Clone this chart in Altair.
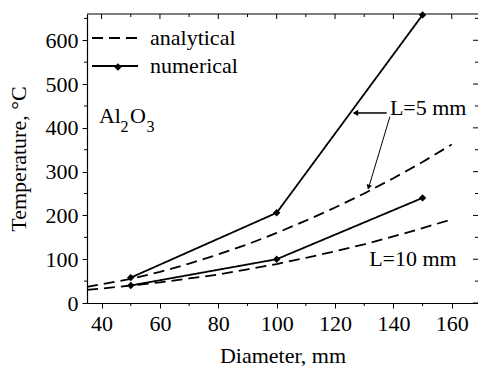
import altair as alt
import pandas as pd

# ---- data ----
diam_num = [50, 100, 150]
num_L5 = [58, 206, 658]
num_L10 = [40, 100, 240]

diam_an = [35, 40, 50, 60, 70, 80, 90, 100, 110, 120, 130, 140, 150, 160]
an_L5 = [37, 43, 55, 71, 90, 111, 134, 160, 188, 218, 250, 285, 322, 362]
an_L10 = [30, 33, 40, 47, 56, 65, 77, 89, 103, 118, 134, 152, 171, 191]

kinds = ["analytical", "numerical"]

x_major = [40, 60, 80, 100, 120, 140, 160]
x_minor = [50, 70, 90, 110, 130, 150]
y_major = [0, 100, 200, 300, 400, 500, 600]
y_minor = [50, 150, 250, 350, 450, 550, 650]

# annotations (data coordinates)
main_text = ["Al", "O", "L=5 mm", "L=10 mm"]
main_x = [39.1, 49.7, 138.8, 131.7]
main_y = [410, 410, 429, 85]
sub_text = ["2", "3"]
sub_x = [46.5, 55.4]
sub_y = [391, 391]

arrow1 = {"D": [137.7], "T": [434], "D2": [127.5], "T2": [434]}
arrow1_head = {"D": [127.0], "T": [434]}
arrow2 = {"D": [138.8], "T": [425.3], "D2": [131.5], "T2": [263]}
arrow2_head = {"D": [131.5], "T": [264.5]}

X_DOMAIN = [35, 169]
Y_DOMAIN = [0, 660]
FONT = "Liberation Serif"
FS = 22

rows = []
for d, t in zip(diam_an, an_L5):
    rows.append({"D": d, "T": t, "kind": "analytical", "series": "an5"})
for d, t in zip(diam_an, an_L10):
    rows.append({"D": d, "T": t, "kind": "analytical", "series": "an10"})
for d, t in zip(diam_num, num_L5):
    rows.append({"D": d, "T": t, "kind": "numerical", "series": "num5"})
for d, t in zip(diam_num, num_L10):
    rows.append({"D": d, "T": t, "kind": "numerical", "series": "num10"})
df = pd.DataFrame(rows)
df_num = df[df["kind"] == "numerical"]

xs = alt.Scale(domain=X_DOMAIN, nice=False, zero=False)
ys = alt.Scale(domain=Y_DOMAIN, nice=False, zero=False)
common = dict(tickSize=5, tickColor="black", tickWidth=1, domain=True, domainColor="black",
              domainWidth=1.2, grid=False,
              labelFont=FONT, labelFontSize=FS, labelColor="black", labelFontWeight="normal",
              titleFont=FONT, titleFontSize=FS, titleColor="black", titleFontWeight="normal",
              titleBaseline="alphabetic")
AX = alt.Axis(values=x_major, labelPadding=5, title="Diameter, mm", titleY=59, **common)
AY = alt.Axis(values=y_major, labelPadding=4, title="Temperature, °C", titleX=-62, **common)

lines = alt.Chart(df).mark_line(color="black", strokeWidth=1.8).encode(
    strokeDash=alt.StrokeDash("kind:N", scale=alt.Scale(domain=kinds, range=[[11, 6], [1, 0]]),
                              legend=alt.Legend(orient="none", legendX=17, legendY=13, title=None,
                                                symbolType="M-2.3,0H2.3", symbolSize=400,
                                                symbolStrokeWidth=1.8, symbolStrokeColor="black",
                                                labelFont=FONT, labelFontSize=FS, labelColor="black",
                                                labelOffset=24, rowPadding=6, padding=0)),
    detail="series:N",
)

points = alt.Chart(df_num).mark_point(filled=True, color="black", size=55, opacity=1).encode(
    shape=alt.Shape("kind:N", scale=alt.Scale(domain=["numerical"], range=["diamond"]),
                    legend=alt.Legend(orient="none", legendX=20, legendY=42, title=None,
                                      symbolSize=55, symbolFillColor="black", symbolStrokeColor="black",
                                      symbolStrokeWidth=0, labelExpr="''",
                                      labelFont=FONT, labelFontSize=FS, padding=0)),
    detail="series:N",
)


def tick_layer(vals, orient, pos, size, offset):
    if orient == "vertical":
        d = pd.DataFrame({"D": vals, "T": [pos] * len(vals)})
        return alt.Chart(d).mark_tick(orient="vertical", size=size, thickness=1, color="black",
                                      yOffset=offset, opacity=1)
    d = pd.DataFrame({"T": vals, "D": [pos] * len(vals)})
    return alt.Chart(d).mark_tick(orient="horizontal", size=size, thickness=1, color="black",
                                  xOffset=offset, opacity=1)


ticks = [
    tick_layer(x_minor, "vertical", Y_DOMAIN[0], 3, 1.5),      # bottom minor (outward)
    tick_layer(x_major, "vertical", Y_DOMAIN[1], 5, 2.5),      # top major (inward)
    tick_layer(x_minor, "vertical", Y_DOMAIN[1], 3, 1.5),      # top minor (inward)
    tick_layer(y_minor, "horizontal", X_DOMAIN[0], 3, -1.5),   # left minor (outward)
    tick_layer(y_major, "horizontal", X_DOMAIN[1], 5, -2.5),   # right major (inward)
    tick_layer(y_minor, "horizontal", X_DOMAIN[1], 3, -1.5),   # right minor (inward)
]

top_frame = alt.Chart(pd.DataFrame({"D": [X_DOMAIN[0]], "D2": [X_DOMAIN[1]], "T": [Y_DOMAIN[1]]})
                      ).mark_rule(color="black", strokeWidth=1.2).encode(x2="D2:Q")

txt_main = alt.Chart(pd.DataFrame({"t": main_text, "D": main_x, "T": main_y})).mark_text(
    align="left", baseline="alphabetic", font=FONT, fontSize=FS, color="black").encode(text="t:N")

txt_sub = alt.Chart(pd.DataFrame({"t": sub_text, "D": sub_x, "T": sub_y})).mark_text(
    align="left", baseline="alphabetic", font=FONT, fontSize=16, color="black").encode(text="t:N")

a1 = alt.Chart(pd.DataFrame(arrow1)).mark_rule(color="black", strokeWidth=1.5).encode(
    x2="D2:Q", y2="T2:Q")
a1h = alt.Chart(pd.DataFrame(arrow1_head)).mark_point(shape="triangle-left", filled=True, color="black",
                                                      size=40, opacity=1)
a2 = alt.Chart(pd.DataFrame(arrow2)).mark_rule(color="black", strokeWidth=1).encode(
    x2="D2:Q", y2="T2:Q")
a2h = alt.Chart(pd.DataFrame(arrow2_head)).mark_point(shape="triangle-down", angle=17, filled=True,
                                                      color="black", size=30, opacity=1)

chart = alt.layer(lines, points, *ticks, top_frame, txt_main, txt_sub, a1, a1h, a2, a2h).encode(
    x=alt.X("D:Q", scale=xs, axis=AX),
    y=alt.Y("T:Q", scale=ys, axis=AY),
).properties(
    width=391, height=289,
    autosize=alt.AutoSizeParams(type="none"),
    padding={"left": 87, "top": 14, "right": 0, "bottom": 63},
).configure_view(stroke=None).configure_axis(
    grid=False, labelFont=FONT, titleFont=FONT, labelFontSize=FS, titleFontSize=FS,
)

chart.save("out.html", embed_options={"renderer": "svg", "actions": False})
